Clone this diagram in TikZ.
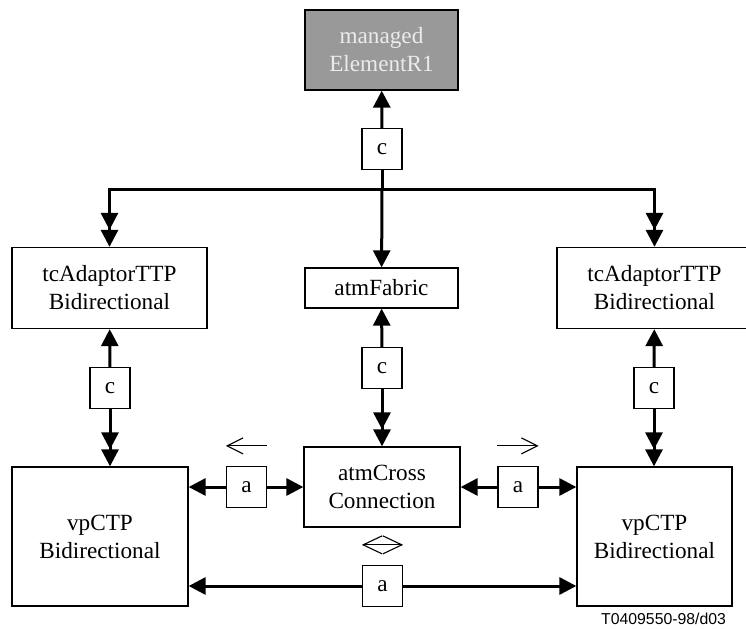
\documentclass[tikz,border=0pt]{standalone}
\usepackage{fontspec}
\setmainfont{Liberation Serif}
\newfontfamily\tagfont{Liberation Sans}
\usetikzlibrary{arrows.meta, calc}

\tikzset{
  obj/.style={draw, line width=0.65pt, align=center, inner sep=0pt,
    font=\fontsize{11.6}{14}\selectfont},
  lbl/.style={obj, minimum width=20pt, minimum height=20.5pt},
  conn/.style={line width=1.5pt},
  sgl/.style={conn, -{Triangle[length=8.5pt,width=8.5pt]}},
  dbl/.style={conn, -{Triangle[length=8.5pt,width=8.5pt]Triangle[length=8.5pt,width=8.5pt]}},
  barb/.tip={Straight Barb[length=8pt,width=8pt]},
  wbarb/.tip={Straight Barb[length=9.5pt,width=9pt]},
  dirmark/.style={line width=0.55pt}
}

\begin{document}
\begin{tikzpicture}[x=0.5pt, y=-0.5pt]
  \useasboundingbox (0,0) rectangle (746,628);
  \def\gap{10pt} % distance of the direction marks above the a boxes

  % objects
  \node (me) [obj, fill=gray!80, text=white!92!black, minimum width=76.5pt, minimum height=40pt]
    at (381.5,50) {managed\\ElementR1};
  \node (tcl) [obj, minimum width=97.5pt, minimum height=40.5pt] at (109.5,288) {tcAdaptorTTP\\Bidirectional};
  \node (fab) [obj, minimum width=76.5pt, minimum height=20pt] at (381.5,288) {atmFabric};
  \node (tcr) [obj, minimum width=97.5pt, minimum height=40.5pt] at (654.5,288) {tcAdaptorTTP\\Bidirectional};
  \node (vpl) [obj, minimum width=88pt, minimum height=69.5pt] at (100,536.5) {vpCTP\\Bidirectional};
  \node (xc) [obj, minimum width=78pt, minimum height=40pt] at (382,487) {atmCross\\Connection};
  \node (vpr) [obj, minimum width=77.5pt, minimum height=69.5pt] at (654.5,536.5) {vpCTP\\Bidirectional};

  % relationship labels
  \node (c1) [lbl] at (382,149) {c};
  \node (c2) [lbl] at (110,388) {c};
  \node (c3) [lbl] at (382,368) {c};
  \node (c4) [lbl] at (654,388) {c};
  \node (al) [lbl] at (246.5,487) {a};
  \node (ar) [lbl] at (518,487) {a};
  \node (ab) [lbl] at (382.5,586) {a};

  % containment
  \coordinate (bus) at (382,189);
  \draw [sgl] (c1) -- (me);
  \draw [conn] (c1) -- (bus);
  \draw [dbl] (bus) -| (tcl);
  \draw [dbl] (bus) -| (tcr);
  \draw [sgl] (bus) -- (fab);
  \draw [sgl] (c2) -- (tcl);
  \draw [dbl] (c2) -- (c2 |- vpl.north);
  \draw [sgl] (c3) -- (fab);
  \draw [dbl] (c3) -- (xc);
  \draw [sgl] (c4) -- (tcr);
  \draw [dbl] (c4) -- (c4 |- vpr.north);

  % associations
  \draw [sgl] (al) -- (vpl.east |- al);
  \draw [sgl] (al) -- (xc);
  \draw [sgl] (ar) -- (xc);
  \draw [sgl] (ar) -- (vpr.west |- ar);
  \draw [sgl] (ab) -- (vpl.east |- ab);
  \draw [sgl] (ab) -- (vpr.west |- ab);

  % direction marks
  \draw [dirmark, barb-] ([yshift=\gap]al.north west) -- ([yshift=\gap]al.north east);
  \draw [dirmark, -barb] ([yshift=\gap]ar.north west) -- ([yshift=\gap]ar.north east);
  \draw [dirmark, wbarb-wbarb] ([yshift=\gap]ab.north west) -- ([yshift=\gap]ab.north east);

  \node (ref) [anchor=east, font=\tagfont\fontsize{7.9}{9}\selectfont] at (733,619) {T0409550-98/d03};
\end{tikzpicture}
\end{document}
